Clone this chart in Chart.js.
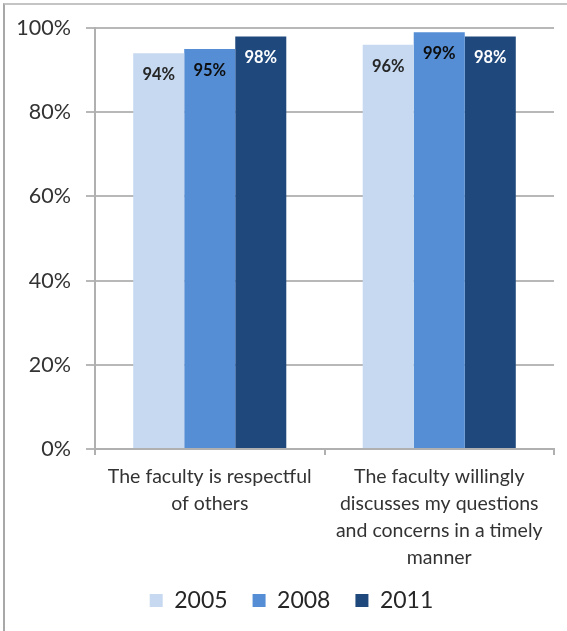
<!DOCTYPE html>
<html>
<head>
<meta charset="utf-8">
<script src="https://cdn.jsdelivr.net/npm/chart.js@4.4.1/dist/chart.umd.min.js"></script>
<style>
  html, body { margin: 0; padding: 0; background: #fff; }
  #wrap { position: relative; width: 567px; height: 631px; }
  #frame { position: absolute; left: 3px; top: 3px; right: 0; bottom: 0;
           border-left: 2px solid #a8a8a8; border-top: 2px solid #c4c4c4; pointer-events: none; }
  canvas { position: absolute; left: 0; top: 0; }
</style>
</head>
<body>
<div id="wrap">
  <canvas id="c" width="567" height="631"></canvas>
  <div id="frame"></div>
</div>
<script>
const categories = [
  ["The faculty is respectful", "of others"],
  ["The faculty willingly", "discusses my questions", "and concerns in a timely", "manner"]
];
const seriesNames = ["2005", "2008", "2011"];
const values2005 = [94, 96];
const values2008 = [95, 99];
const values2011 = [98, 98];
const yTicks = [0, 20, 40, 60, 80, 100];

const colors = ["#C6D9F1", "#558ED5", "#1F497D"];
const labelColors = ["#262626", "#0d0d0d", "#ffffff"];
const allValues = [values2005, values2008, values2011];

const dataLabelPlugin = {
  id: 'dataLabels',
  afterDatasetsDraw(chart) {
    const ctx = chart.ctx;
    ctx.save();
    ctx.font = "bold 16.5px Lato";
    ctx.textAlign = "center";
    ctx.textBaseline = "middle";
    chart.data.datasets.forEach((ds, di) => {
      const meta = chart.getDatasetMeta(di);
      meta.data.forEach((bar, i) => {
        ctx.fillStyle = labelColors[di];
        ctx.fillText(ds.data[i] + "%", bar.x, bar.y + 21.5);
      });
    });
    ctx.restore();
  }
};

new Chart(document.getElementById('c'), {
  type: 'bar',
  data: {
    labels: categories,
    datasets: seriesNames.map((n, i) => ({
      label: n,
      data: allValues[i],
      backgroundColor: colors[i],
      borderWidth: 0,
      categoryPercentage: 0.667,
      barPercentage: 1.0
    }))
  },
  options: {
    responsive: false,
    animation: false,
    layout: { padding: { left: 17, right: 1, top: 28, bottom: 9 } },
    plugins: {
      tooltip: { enabled: false },
      legend: {
        position: 'bottom',
        labels: {
          boxWidth: 13,
          boxHeight: 13,
          padding: 25,
          color: '#262626',
          font: { family: 'Lato', size: 23 }
        }
      }
    },
    scales: {
      x: {
        afterFit: (s) => { s.height = 115; },
        grid: { display: true, drawOnChartArea: false, drawTicks: true, tickLength: 6, color: '#b0b0b0', lineWidth: 2 },
        border: { display: true, color: '#b0b0b0', width: 2 },
        ticks: {
          color: '#333333',
          padding: 8,
          maxRotation: 0,
          autoSkip: false,
          font: { family: 'Lato', size: 19.5, lineHeight: 27/19.5 }
        }
      },
      y: {
        min: 0,
        max: 100,
        afterFit: (s) => { s.width = 78; },
        afterBuildTicks: (s) => { s.ticks = yTicks.map(v => ({ value: v })); },
        grid: { color: '#b8b8b8', lineWidth: 2, tickLength: 9, drawTicks: true },
        border: { display: true, color: '#b0b0b0', width: 2 },
        ticks: {
          color: '#333333',
          padding: 15,
          font: { family: 'Lato', size: 21.5 },
          callback: (v) => v + '%'
        }
      },
      yRight: {
        position: 'right',
        min: 0,
        max: 100,
        afterFit: (s) => { s.width = 12; },
        grid: { display: false, drawTicks: false },
        border: { display: false },
        ticks: { display: false }
      }
    }
  },
  plugins: [dataLabelPlugin]
});
</script>
</body>
</html>
